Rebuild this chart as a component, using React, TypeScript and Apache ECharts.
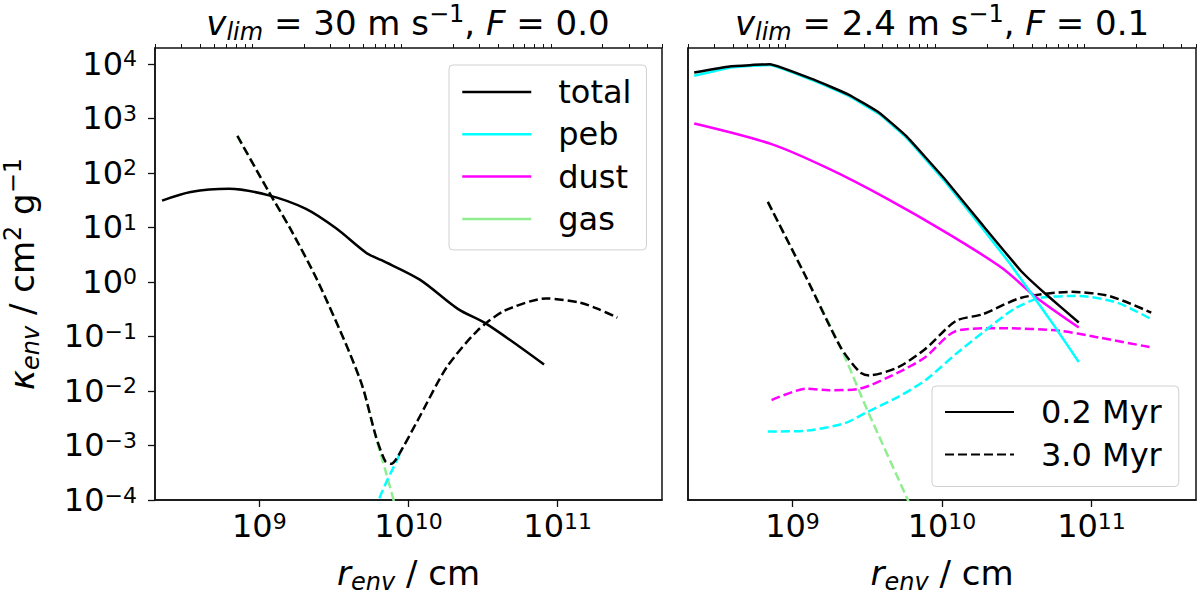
import { useEffect, useRef } from "react";
import * as echarts from "echarts";

// 左图: v_lim = 30 m/s, F = 0.0   ([r_env (cm), kappa (cm^2/g)])
const leftTotal02 = [
  [2.23e8, 31], [3.47e8, 44.6], [6.27e8, 51], [1.16e9, 38.6], [2.04e9, 22],
  [3.27e9, 9.6], [5.22e9, 3.4], [6.6e9, 2.5], [1.19e10, 1.1], [2.14e10, 0.32],
  [3.35e10, 0.168], [8.1e10, 0.0305],
];
const leftTotal30 = [
  [7.13e8, 476], [1.16e9, 44.6], [1.61e9, 9.6], [2.43e9, 1.12], [3.89e9, 0.063],
  [4.93e9, 0.0118], [6.05e9, 1.46e-3], [7.0e9, 5.1e-4], [7.67e9, 4.6e-4], [8.37e9, 5.9e-4],
  [1.19e10, 3.4e-3], [1.8e10, 0.027], [2.89e10, 0.127], [4.37e10, 0.293], [8.36e10, 0.497],
  [1.42e11, 0.415], [1.88e11, 0.316], [2.51e11, 0.221],
];
const leftGas30 = [
  [7.13e8, 476], [1.16e9, 44.6], [1.61e9, 9.6], [2.43e9, 1.12], [3.89e9, 0.063],
  [4.93e9, 0.0118], [6.05e9, 1.4e-3], [7.0e9, 3.5e-4], [8.13e9, 7.9e-5], [8.5e9, 5e-5],
];
// 其余部分被黑色虚线遮住
const leftPeb30 = [
  [5.9e9, 6.5e-5], [7.0e9, 1.95e-4], [8.37e9, 5.4e-4], [9.0e9, 8.3e-4],
];

// 右图: v_lim = 2.4 m/s, F = 0.1
const rightTotal02 = [
  [2.2e8, 6950], [3.78e8, 8950], [7.05e8, 9860], [1.39e9, 5120], [2.37e9, 2730],
  [3.8e9, 1270], [5.75e9, 476], [1.04e10, 77.8], [1.87e10, 11], [3.39e10, 1.57],
  [4.98e10, 0.587], [8.22e10, 0.18],
];
const rightPeb02 = [
  [2.2e8, 6030], [3.78e8, 8500], [7.05e8, 9550], [1.39e9, 4900], [2.37e9, 2570],
  [3.8e9, 1200], [5.75e9, 447], [1.04e10, 70.8], [1.87e10, 9.55], [2.82e10, 2.24],
  [3.98e10, 0.6], [5.62e10, 0.158], [8.22e10, 0.034],
];
const rightDust02 = [
  [2.2e8, 802], [7.24e8, 336], [1.76e9, 118], [4.28e9, 33.7], [1.04e10, 8.36],
  [2.52e10, 1.8], [4.3e10, 0.513], [8.22e10, 0.146],
];
const rightTotal30 = [
  [6.84e8, 29.3], [1.24e9, 1.18], [2.1e9, 0.063], [2.82e9, 0.0221], [3.27e9, 0.0193],
  [5.1e9, 0.0273], [7.73e9, 0.0589], [1.24e10, 0.193], [1.87e10, 0.255], [3.39e10, 0.513],
  [7.31e10, 0.658], [1.32e11, 0.55], [2.51e11, 0.273],
];
const rightGas30 = [
  [6.84e8, 29.3], [1.24e9, 1.18], [2.1e9, 0.063], [3.16e9, 4.5e-3], [6.03e9, 8.9e-5],
];
const rightPeb30 = [
  [6.84e8, 1.8e-3], [1.24e9, 1.87e-3], [2.23e9, 2.55e-3], [3.18e9, 4.15e-3], [5.1e9, 7.8e-3],
  [7.73e9, 0.0157], [1.24e10, 0.0478], [1.87e10, 0.118], [3.01e10, 0.314], [4.55e10, 0.512],
  [8.22e10, 0.55], [1.49e11, 0.415], [2.51e11, 0.207],
];
const rightDust30 = [
  [7.24e8, 6.8e-3], [1.24e9, 0.011], [1.76e9, 0.0103], [2.82e9, 0.011], [5.1e9, 0.0219],
  [7.73e9, 0.0417], [1.24e10, 0.126], [2.52e10, 0.142], [6.12e10, 0.127], [1.11e11, 0.096],
  [2.51e11, 0.063],
];

// 刻度
const xMajor = [1e9, 1e10, 1e11];
const yMajor = [1e-4, 1e-3, 1e-2, 1e-1, 1, 1e1, 1e2, 1e3, 1e4];
const X_MIN = 2e8;
const X_MAX = 5e11;
const Y_MIN = 1e-4;
const Y_MAX = 1.95e4;
const xMinor: number[] = [];
for (const d of [8, 9, 10, 11]) {
  for (let m = 2; m <= 9; m++) {
    const v = m * Math.pow(10, d);
    if (v >= X_MIN && v <= X_MAX) xMinor.push(v);
  }
}

const FONT = "DejaVu Sans";
const C_TOTAL = "#000000";
const C_PEB = "#00ffff";
const C_DUST = "#ff00ff";
const C_GAS = "#90ee90";
const DASH = [9, 4];

const mathRich = (size: number, sub: number) => ({
  r: { fontSize: size, fontFamily: FONT, fontWeight: "normal", lineHeight: size + 8, color: "#000" },
  i: { fontSize: size, fontFamily: FONT, fontWeight: "normal", fontStyle: "italic", lineHeight: size + 8, color: "#000" },
  sub: { fontSize: sub, fontFamily: FONT, fontWeight: "normal", fontStyle: "italic", lineHeight: sub, verticalAlign: "bottom", color: "#000" },
  sup: { fontSize: sub, fontFamily: FONT, fontWeight: "normal", lineHeight: sub, verticalAlign: "top", color: "#000" },
});

const tickRich = {
  b: { fontSize: 32, fontFamily: FONT, lineHeight: 32, color: "#000" },
  s: { fontSize: 22, fontFamily: FONT, lineHeight: 22, verticalAlign: "top", color: "#000" },
};

const powerLabel = (v: number) => {
  const e = Math.round(Math.log10(v));
  return `{b|10}{s|${e < 0 ? "\u2212" + -e : e}}`;
};

const line = (name: string, data: number[][], color: string, dashed: boolean, panel: number, smooth = 0) => ({
  type: "line" as const,
  name,
  data,
  xAxisIndex: panel * 2,
  yAxisIndex: panel,
  symbol: "none",
  smooth,
  silent: true,
  clip: true,
  emphasis: { disabled: true },
  itemStyle: { color },
  lineStyle: { color, width: 2.5, type: dashed ? DASH : "solid" },
});

const legendBox = {
  orient: "vertical" as const,
  itemWidth: 69,
  itemHeight: 14,
  selectedMode: false,
  backgroundColor: "rgba(255,255,255,0.8)",
  borderColor: "#d0d0d0",
  borderWidth: 1,
  borderRadius: 4,
  itemStyle: { opacity: 0 },
  textStyle: { fontSize: 32, fontFamily: FONT, color: "#000", lineHeight: 34, padding: [0, 0, 0, 22] },
};

export default function App() {
  const chartRef = useRef<HTMLDivElement>(null);

  useEffect(() => {
    if (!chartRef.current) return;
    const chart = echarts.init(chartRef.current, undefined, { renderer: "svg" });

    const grids = [
      { left: 155, top: 48, width: 507, height: 456 },
      { left: 688, top: 48, width: 508, height: 456 },
    ];

    const xAxes: any[] = [];
    grids.forEach((_, gi) => {
      xAxes.push({
        type: "log",
        gridIndex: gi,
        min: X_MIN,
        max: X_MAX,
        name: "{i|r}{sub|env}{r| / cm}",
        nameLocation: "middle",
        nameGap: 52,
        nameTextStyle: { rich: mathRich(34, 24) },
        axisLine: { show: true, lineStyle: { color: "#111", width: 1.5 } },
        axisTick: { show: true, length: 7, lineStyle: { color: "#111", width: 1.3 }, customValues: xMajor },
        axisLabel: { margin: 10, formatter: powerLabel, customValues: xMajor, rich: tickRich },
        splitLine: { show: false },
      });
      xAxes.push({
        type: "log",
        gridIndex: gi,
        min: X_MIN,
        max: X_MAX,
        axisLine: { show: false },
        axisTick: { show: true, length: 4, lineStyle: { color: "#111", width: 1 }, customValues: xMinor },
        axisLabel: { show: false },
        splitLine: { show: false },
      });
    });

    const option: echarts.EChartsOption = {
      animation: false,
      backgroundColor: "#fff",
      title: [
        {
          text: "{i|v}{sub|lim}{r| = 30 m s}{sup|\u22121}{r|, }{i|F}{r| = 0.0}",
          left: 408,
          top: 2,
          padding: 0,
          textAlign: "center",
          textStyle: { fontWeight: "normal", rich: mathRich(34, 24) as any },
        },
        {
          text: "{i|v}{sub|lim}{r| = 2.4 m s}{sup|\u22121}{r|, }{i|F}{r| = 0.1}",
          left: 942,
          top: 2,
          padding: 0,
          textAlign: "center",
          textStyle: { fontWeight: "normal", rich: mathRich(34, 24) as any },
        },
      ],
      grid: grids.map((g) => ({ ...g, show: true, borderColor: "#111", borderWidth: 1.5, backgroundColor: "transparent" })),
      xAxis: xAxes,
      yAxis: [
        {
          type: "log",
          gridIndex: 0,
          min: Y_MIN,
          max: Y_MAX,
          name: "{i|\u03ba}{sub|env}{r| / cm}{sup|2}{r| g}{sup|\u22121}",
          nameLocation: "middle",
          nameGap: 112,
          nameTextStyle: { rich: mathRich(34, 24) as any },
          axisLine: { show: true, lineStyle: { color: "#111", width: 1.5 } },
          axisTick: { show: true, length: 7, lineStyle: { color: "#111", width: 1.3 }, customValues: yMajor },
          axisLabel: { margin: 18, formatter: powerLabel, customValues: yMajor, rich: tickRich as any },
          splitLine: { show: false },
        },
        {
          type: "log",
          gridIndex: 1,
          min: Y_MIN,
          max: Y_MAX,
          axisLine: { show: true, lineStyle: { color: "#111", width: 1.5 } },
          axisTick: { show: false },
          axisLabel: { show: false },
          splitLine: { show: false },
        },
      ],
      legend: [
        {
          ...legendBox,
          data: ["total", "peb", "dust", "gas"],
          left: 449,
          top: 65,
          padding: [10, 15, 14, 12],
          itemGap: 8.3,
          lineStyle: { type: "solid", width: 2.5 },
        },
        {
          ...legendBox,
          data: ["0.2 Myr", "3.0 Myr"],
          left: 932,
          top: 386,
          padding: [9, 17, 15, 12],
          itemGap: 8.5,
        },
      ] as any,
      series: [
        // 左图
        line("gas", leftGas30, C_GAS, true, 0, 0.25),
        line("peb 3.0", leftPeb30, C_PEB, true, 0, 0.25),
        line("total 3.0", leftTotal30, C_TOTAL, true, 0, 0.25),
        line("total", leftTotal02, C_TOTAL, false, 0, 0.3),
        // 右图
        line("gas 3.0 r", rightGas30, C_GAS, true, 1, 0.2),
        line("dust 3.0 r", rightDust30, C_DUST, true, 1, 0.25),
        line("peb 3.0 r", rightPeb30, C_PEB, true, 1, 0.25),
        line("3.0 Myr", rightTotal30, C_TOTAL, true, 1, 0.25),
        line("dust", rightDust02, C_DUST, false, 1, 0.3),
        line("peb", rightPeb02, C_PEB, false, 1, 0.1),
        line("0.2 Myr", rightTotal02, C_TOTAL, false, 1, 0.1),
      ] as any,
    };

    chart.setOption(option);

    return () => {
      chart.dispose();
    };
  }, []);

  return (
    <div
      ref={chartRef}
      style={{ position: "absolute", left: 0, top: 0, width: 1200, height: 599, background: "#fff" }}
    />
  );
}
